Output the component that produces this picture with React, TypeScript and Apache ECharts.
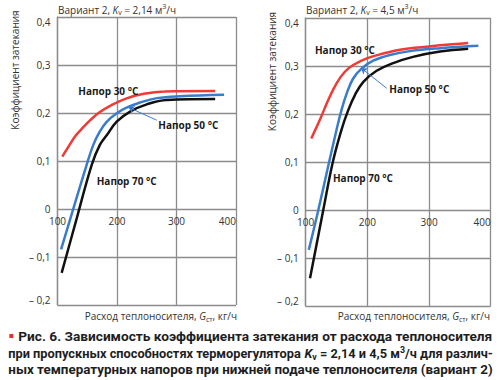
import React, { useEffect, useRef } from 'react';
import * as echarts from 'echarts';

const FONT = '"Open Sans", "Noto Sans", sans-serif';
const CAP_FONT = 'Roboto, "Noto Sans", sans-serif';
const GRID = '#8c8c8c';
const TXT = '#333333';
const RED = '#ee3b35';
const BLUE = '#3a7ccb';
const BLACK = '#111111';

const yMin = -0.2;
const yMax = 0.4;
const yTickValues = [-0.2, -0.1, 0, 0.1, 0.2, 0.3, 0.4];
const yTickLabels = ['– 0,2', '– 0,1', '0', '0,1', '0,2', '0,3', '0,4'];

const leftTitle = 'Вариант 2, {i|K}{sub|v} = 2,14 м{sup|3}/ч';
const rightTitle = 'Вариант 2, {i|K}{sub|v} = 4,5 м{sup|3}/ч';
const yName = 'Коэффициент затекания';
const xName = 'Расход теплоносителя, {i|G}{sub|ст}, кг/ч';
const seriesNames = ['Напор 30 °C', 'Напор 50 °C', 'Напор 70 °C'];

// left chart, K_v = 2.14
const leftRed30X = [108, 120, 130, 140, 155, 170, 190, 215, 245, 280, 365];
const leftRed30Y = [0.109, 0.133, 0.152, 0.166, 0.185, 0.201, 0.216, 0.23, 0.24, 0.245, 0.246];
const leftBlue50X = [106, 125, 149, 160, 171, 183, 199, 216, 239, 267, 306, 380];
const leftBlue50Y = [-0.084, -0.006, 0.092, 0.133, 0.161, 0.182, 0.199, 0.211, 0.222, 0.231, 0.235, 0.238];
const leftBlack70X = [107, 130, 157.5, 171, 183, 199.5, 222, 250, 283.5, 365];
const leftBlack70Y = [-0.133, -0.03, 0.092, 0.133, 0.154, 0.182, 0.203, 0.218, 0.227, 0.229];

// right chart, K_v = 4.5
const rightRed30X = [109, 123, 136.5, 150, 163.5, 177, 199, 226, 258, 318, 363.5];
const rightRed30Y = [0.149, 0.188, 0.229, 0.264, 0.288, 0.302, 0.316, 0.326, 0.335, 0.343, 0.348];
const rightBlue50X = [105, 120.5, 138, 150, 158, 166.5, 177, 191, 209.5, 236.5, 269, 318, 380];
const rightBlue50Y = [-0.083, 0, 0.1, 0.167, 0.208, 0.243, 0.274, 0.295, 0.311, 0.323, 0.331, 0.337, 0.342];
const rightBlack70X = [107, 128.5, 144, 158, 169, 180, 193.5, 215, 242, 274, 318, 363.5];
const rightBlack70Y = [-0.142, 0, 0.1, 0.167, 0.208, 0.24, 0.267, 0.29, 0.306, 0.319, 0.33, 0.336];

const captionLines = [
  'Рис. 6. Зависимость коэффициента затекания от расхода теплоносителя',
  'при пропускных способностях терморегулятора {i|K}{sub|v} = 2,14 и 4,5 м{sup|3}/ч для различ-',
  'ных температурных напоров при нижней подаче теплоносителя (вариант 2)',
];

type St = { fontSize: number; fontFamily: string; fontWeight?: string; fontStyle?: string; lineHeight?: number; verticalAlign?: string; fill?: string };

function richStyles(size: number, family: string, weight: string, lh: number, color: string) {
  const small = Math.round(size * 0.68);
  const base: St = { fontSize: size, fontFamily: family, fontWeight: weight, fontStyle: 'normal', lineHeight: lh, fill: color };
  return {
    base,
    rich: {
      i: { ...base, fontStyle: 'italic' },
      sub: { fontSize: small, fontFamily: family, fontWeight: weight, fontStyle: 'normal', lineHeight: Math.round(lh * 0.45), verticalAlign: 'bottom', fill: color },
      sup: { fontSize: small, fontFamily: family, fontWeight: weight, fontStyle: 'normal', lineHeight: Math.round(lh * 0.45), verticalAlign: 'top', fill: color },
    } as Record<string, St>,
  };
}

let measureCtx: CanvasRenderingContext2D | null = null;
function measureRich(s: string, base: St, rich: Record<string, St>) {
  if (!measureCtx) measureCtx = document.createElement('canvas').getContext('2d');
  const ctx = measureCtx!;
  const re = /\{(\w+)\|([^}]*)\}|([^{]+)/g;
  let w = 0;
  let m: RegExpExecArray | null;
  while ((m = re.exec(s))) {
    const st = m[1] ? rich[m[1]] : base;
    ctx.font = `${st.fontStyle || 'normal'} ${st.fontWeight || 'normal'} ${st.fontSize}px ${st.fontFamily}`;
    w += ctx.measureText(m[1] ? m[2] : (m[3] as string)).width;
  }
  return w;
}

function textEl(text: string, x: number, y: number, align: string, valign: string, size: number, family: string, weight: string, color: string, extra: any = {}) {
  const rs = richStyles(size, family, weight, Math.round(size * 1.3), color);
  return {
    type: 'text',
    x,
    y,
    silent: true,
    ...extra,
    style: {
      text,
      ...rs.base,
      align,
      verticalAlign: valign,
      textAlign: align,
      textVerticalAlign: valign,
      rich: rs.rich,
    },
  };
}

function pairs(xs: number[], ys: number[]) {
  return xs.map((x, i) => [x, ys[i]]);
}

function lineSeries(name: string, idx: number, xs: number[], ys: number[], color: string, extra: any = {}) {
  return {
    type: 'line',
    name,
    xAxisIndex: idx,
    yAxisIndex: idx,
    data: pairs(xs, ys),
    smooth: 0.4,
    showSymbol: false,
    symbol: 'none',
    lineStyle: { color, width: 2.5 },
    itemStyle: { color },
    silent: true,
    ...extra,
  };
}

function labelPoint(text: string, coord: number[]) {
  return {
    symbol: 'circle',
    symbolSize: 0,
    silent: true,
    itemStyle: { color: 'transparent' },
    label: {
      show: true,
      position: 'right',
      distance: 0,
      formatter: text,
      fontFamily: FONT,
      fontWeight: 'bold',
      fontSize: 10,
      color: '#1a1a1a',
    },
    data: [{ coord }],
  };
}

function arrowLine(from: number[], to: number[]) {
  return {
    silent: true,
    symbol: ['arrow', 'none'],
    symbolSize: 6,
    lineStyle: { color: BLUE, width: 1, type: 'solid' },
    label: { show: false },
    emphasis: { disabled: true },
    data: [[{ coord: from }, { coord: to }]],
  };
}

function axisPair(idx: number, gridHeight: number) {
  const lineStyle = { color: GRID, width: 1.3 };
  // x labels sit just below the zero line, as in the reference
  const zeroOffset = (gridHeight * (0 - yMin)) / (yMax - yMin);
  return {
    x: {
      type: 'value',
      gridIndex: idx,
      min: 100,
      max: 400,
      interval: 100,
      axisLine: { show: false, onZero: false },
      axisTick: { show: false },
      axisLabel: { fontFamily: FONT, fontSize: 10, color: TXT, margin: -(zeroOffset - 7), alignMaxLabel: 'right' },
      splitLine: { show: true, lineStyle },
    },
    y: {
      type: 'value',
      gridIndex: idx,
      min: yMin,
      max: yMax,
      interval: 0.1,
      axisLine: { show: true, onZero: false, lineStyle },
      axisTick: { show: false },
      axisLabel: {
        fontFamily: FONT,
        fontSize: 10,
        color: TXT,
        margin: 7,
        verticalAlignMaxLabel: 'top',
        verticalAlignMinLabel: 'bottom',
        formatter: (v: number) => {
          const i = yTickValues.findIndex((t) => Math.abs(t - v) < 1e-6);
          return i >= 0 ? yTickLabels[i] : '';
        },
      },
      splitLine: { show: true, lineStyle },
    },
  };
}

export default function App() {
  const ref = useRef<HTMLDivElement>(null);
  useEffect(() => {
    if (!ref.current) return;
    const chart = echarts.init(ref.current, undefined, { renderer: 'svg' });
    const H = 288;
    const a0 = axisPair(0, H);
    const a1 = axisPair(1, H);

    const capStyles = richStyles(13, CAP_FONT, 'bold', 16, '#1e1e1e');
    const capTargets = [
      { x: 18.3, w: 474.7, y: 336.5 },
      { x: 8.3, w: 484.7, y: 353 },
      { x: 8.3, w: 484.7, y: 369.5 },
    ];
    const captionEls = captionLines.map((line, i) => {
      const nat = measureRich(line, capStyles.base, capStyles.rich);
      const t = capTargets[i];
      return {
        type: 'text',
        x: t.x,
        y: t.y,
        scaleX: t.w / nat,
        silent: true,
        style: {
          text: line,
          ...capStyles.base,
          align: 'left',
          verticalAlign: 'middle',
          textAlign: 'left',
          textVerticalAlign: 'middle',
          rich: capStyles.rich,
        },
      };
    });

    const option: any = {
      animation: false,
      grid: [
        { left: 57.5, top: 17, width: 178.5, height: H },
        { left: 305.7, top: 18, width: 185, height: H },
      ],
      xAxis: [a0.x, a1.x],
      yAxis: [a0.y, a1.y],
      series: [
        lineSeries(seriesNames[0], 0, leftRed30X, leftRed30Y, RED, { markPoint: labelPoint(seriesNames[0], [135, 0.246]) }),
        lineSeries(seriesNames[1], 0, leftBlue50X, leftBlue50Y, BLUE, {
          markPoint: labelPoint(seriesNames[1], [269.4, 0.176]),
          markLine: arrowLine([219, 0.212], [266.7, 0.185]),
        }),
        lineSeries(seriesNames[2], 0, leftBlack70X, leftBlack70Y, BLACK, { markPoint: labelPoint(seriesNames[2], [165.9, 0.058]) }),
        lineSeries(seriesNames[0], 1, rightRed30X, rightRed30Y, RED, { markPoint: labelPoint(seriesNames[0], [115, 0.334]) }),
        lineSeries(seriesNames[1], 1, rightBlue50X, rightBlue50Y, BLUE, {
          markPoint: labelPoint(seriesNames[1], [235.5, 0.2515]),
          markLine: arrowLine([190, 0.296], [231.3, 0.2536]),
        }),
        lineSeries(seriesNames[2], 1, rightBlack70X, rightBlack70Y, BLACK, { markPoint: labelPoint(seriesNames[2], [144.2, 0.067]) }),
      ],
      graphic: [
        textEl(leftTitle, 58, 9.5, 'left', 'middle', 10, FONT, 'normal', TXT),
        textEl(rightTitle, 306, 9.5, 'left', 'middle', 10, FONT, 'normal', TXT),
        textEl(yName, 15, 70, 'center', 'middle', 10, FONT, 'normal', TXT, { rotation: Math.PI / 2 }),
        textEl(yName, 271.7, 71.5, 'center', 'middle', 10, FONT, 'normal', TXT, { rotation: Math.PI / 2 }),
        textEl(xName, 237, 316, 'right', 'middle', 10, FONT, 'normal', TXT),
        textEl(xName, 490, 316, 'right', 'middle', 10, FONT, 'normal', TXT),
        { type: 'rect', silent: true, shape: { x: 9.3, y: 334, width: 4, height: 4 }, style: { fill: '#e8312f' } },
        ...captionEls,
      ],
    };
    chart.setOption(option);
    return () => chart.dispose();
  }, []);
  return (
    <div
      ref={ref}
      style={{ position: 'fixed', left: 0, top: 0, width: 500, height: 380, background: '#ffffff' }}
    />
  );
}
